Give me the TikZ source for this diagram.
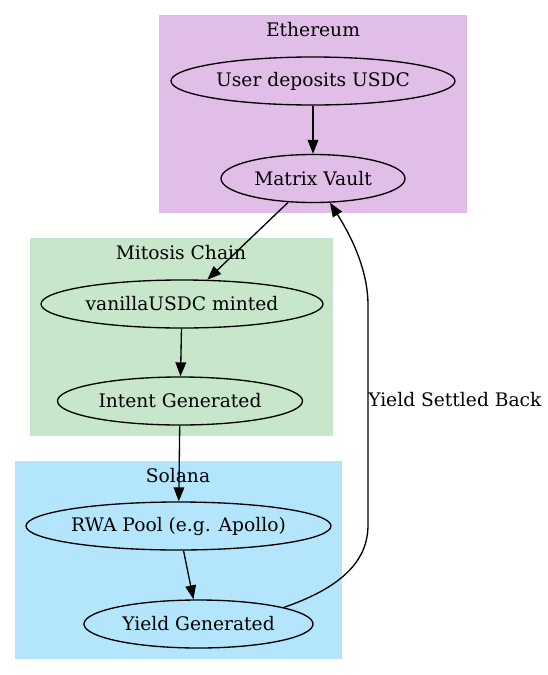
\documentclass[tikz,border=0pt]{standalone}
\usepackage{fontspec}
\setmainfont{DejaVu Serif}
\usetikzlibrary{shapes.geometric,arrows.meta}
\definecolor{ethfill}{HTML}{E1BEE7}
\definecolor{mitfill}{HTML}{C8E6C9}
\definecolor{solfill}{HTML}{B3E5FC}
\tikzset{
  gnode/.style={ellipse, draw=black, line width=1pt, minimum height=36pt, inner sep=0pt,
    font=\fontsize{14pt}{16pt}\selectfont},
  clabel/.style={anchor=base, inner sep=0pt, font=\fontsize{14pt}{16pt}\selectfont},
  elabel/.style={anchor=west, inner sep=0pt, font=\fontsize{14pt}{16pt}\selectfont},
  arr/.style={-{Triangle[length=10.5pt,width=8pt]}, line width=1pt, draw=black},
}
\begin{document}
\begin{tikzpicture}[x=0.75pt,y=-0.75pt]
\useasboundingbox (0,0) rectangle (548,675);
\fill[white] (0,0) rectangle (548,675);
% clusters
\fill[ethfill] (159,15) rectangle (467,213);
\fill[mitfill] (30,238) rectangle (333,436);
\fill[solfill] (15,461) rectangle (342,659);
\node[clabel] (ethlab) at (313,36.5) {Ethereum};
\node[clabel] (mitlab) at (181,259) {Mitosis Chain};
\node[clabel] (sollab) at (178,482) {Solana};
% nodes
\node[gnode, minimum width=213pt] (user) at (313,81) {User deposits USDC};
\node[gnode, minimum width=138pt] (matrix) at (313,178.5) {Matrix Vault};
\node[gnode, minimum width=211.5pt] (vanilla) at (182,304) {vanillaUSDC minted};
\node[gnode, minimum width=183.75pt] (intent) at (180,401) {Intent Generated};
\node[gnode, minimum width=228.75pt] (rwa) at (178.5,526) {RWA Pool (e.g. Apollo)};
\node[gnode, minimum width=171.75pt] (yield) at (198.5,624) {Yield Generated};
% edges
\draw[arr] (user) -- (matrix);
\draw[arr] (matrix) -- (vanilla);
\draw[arr] (vanilla) -- (intent);
\draw[arr] (intent) -- (rwa);
\draw[arr] (rwa) -- (yield);
\draw[arr] (yield.11) .. controls (340,588) and (368,562) .. (368,525) -- (368,305)
  .. controls (368,265) and (346,228) .. (matrix.-55);
\node[elabel] (backlab) at (368,400) {Yield Settled Back};
\end{tikzpicture}
\end{document}
